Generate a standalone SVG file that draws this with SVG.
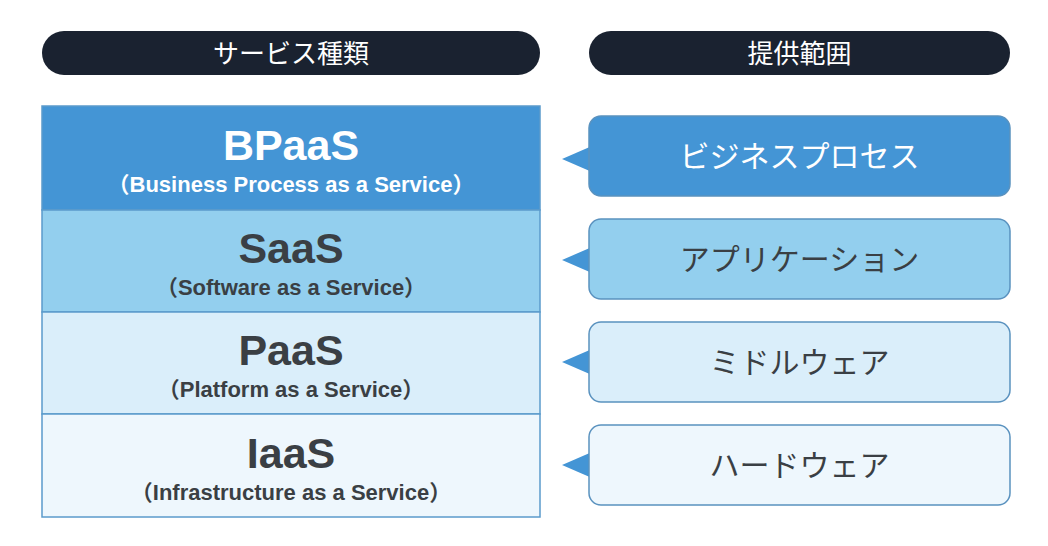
<svg xmlns="http://www.w3.org/2000/svg" width="1048" height="546" viewBox="0 0 1048 546">
<style>
  .pill { fill: #1a2230; }
  .htxt { font-family: "Noto Sans CJK JP", "Noto Sans", sans-serif; font-size: 26px; font-weight: 400; fill: #ffffff; text-anchor: middle; }
  .row { stroke: #5b9bcb; stroke-width: 1.5; }
  .title { font-family: "Liberation Sans", Arial, "Noto Sans CJK JP", sans-serif; font-size: 43px; font-weight: bold; text-anchor: middle; }
  .sub { font-family: "Liberation Sans", Arial, "Noto Sans CJK JP", sans-serif; font-size: 22px; font-weight: bold; text-anchor: middle; }
  .box { stroke: #5a92bf; stroke-width: 1.5; }
  .btxt { font-family: "Noto Sans CJK JP", sans-serif; font-size: 30px; font-weight: 400; text-anchor: middle; }
  .dark { fill: #3a3f44; }
  .light { fill: #ffffff; }
  .tri { fill: #4495d5; }
</style>
<rect width="1048" height="546" fill="#ffffff"/>

<g id="header-service">
  <rect class="pill" x="42" y="31" width="498" height="44" rx="22"/>
  <text class="htxt" x="291" y="63">サービス種類</text>
</g>
<g id="header-scope">
  <rect class="pill" x="589" y="31" width="421" height="44" rx="22"/>
  <text class="htxt" x="799.5" y="63">提供範囲</text>
</g>

<g id="bpaas">
  <rect class="row" x="42" y="106" width="498" height="104" fill="#4495d5"/>
  <text class="title light" x="291" y="160">BPaaS</text>
  <text class="sub light" x="291" y="192">（Business Process as a Service）</text>
</g>
<g id="saas">
  <rect class="row" x="42" y="210" width="498" height="102" fill="#93cfee"/>
  <text class="title dark" x="291" y="263">SaaS</text>
  <text class="sub dark" x="291" y="295">（Software as a Service）</text>
</g>
<g id="paas">
  <rect class="row" x="42" y="312" width="498" height="102" fill="#daeefa"/>
  <text class="title dark" x="291" y="365">PaaS</text>
  <text class="sub dark" x="291" y="397">（Platform as a Service）</text>
</g>
<g id="iaas">
  <rect class="row" x="42" y="414" width="498" height="103" fill="#eef7fd"/>
  <text class="title dark" x="291" y="468">IaaS</text>
  <text class="sub dark" x="291" y="500">（Infrastructure as a Service）</text>
</g>

<g id="connectors">
  <polygon class="tri" points="562,159 592,146 592,172"/>
  <polygon class="tri" points="562,260 592,247 592,273"/>
  <polygon class="tri" points="562,362 592,349 592,375"/>
  <polygon class="tri" points="562,465 592,452 592,478"/>
</g>

<g id="scope-bp">
  <rect class="box" x="589" y="116" width="421" height="80" rx="12" fill="#4495d5"/>
  <text class="btxt light" x="799.5" y="167">ビジネスプロセス</text>
</g>
<g id="scope-app">
  <rect class="box" x="589" y="219" width="421" height="80" rx="12" fill="#93cfee"/>
  <text class="btxt dark" x="799.5" y="270">アプリケーション</text>
</g>
<g id="scope-mw">
  <rect class="box" x="589" y="322" width="421" height="80" rx="12" fill="#daeefa"/>
  <text class="btxt dark" x="799.5" y="373">ミドルウェア</text>
</g>
<g id="scope-hw">
  <rect class="box" x="589" y="425" width="421" height="80" rx="12" fill="#eef7fd"/>
  <text class="btxt dark" x="799.5" y="476">ハードウェア</text>
</g>
</svg>
